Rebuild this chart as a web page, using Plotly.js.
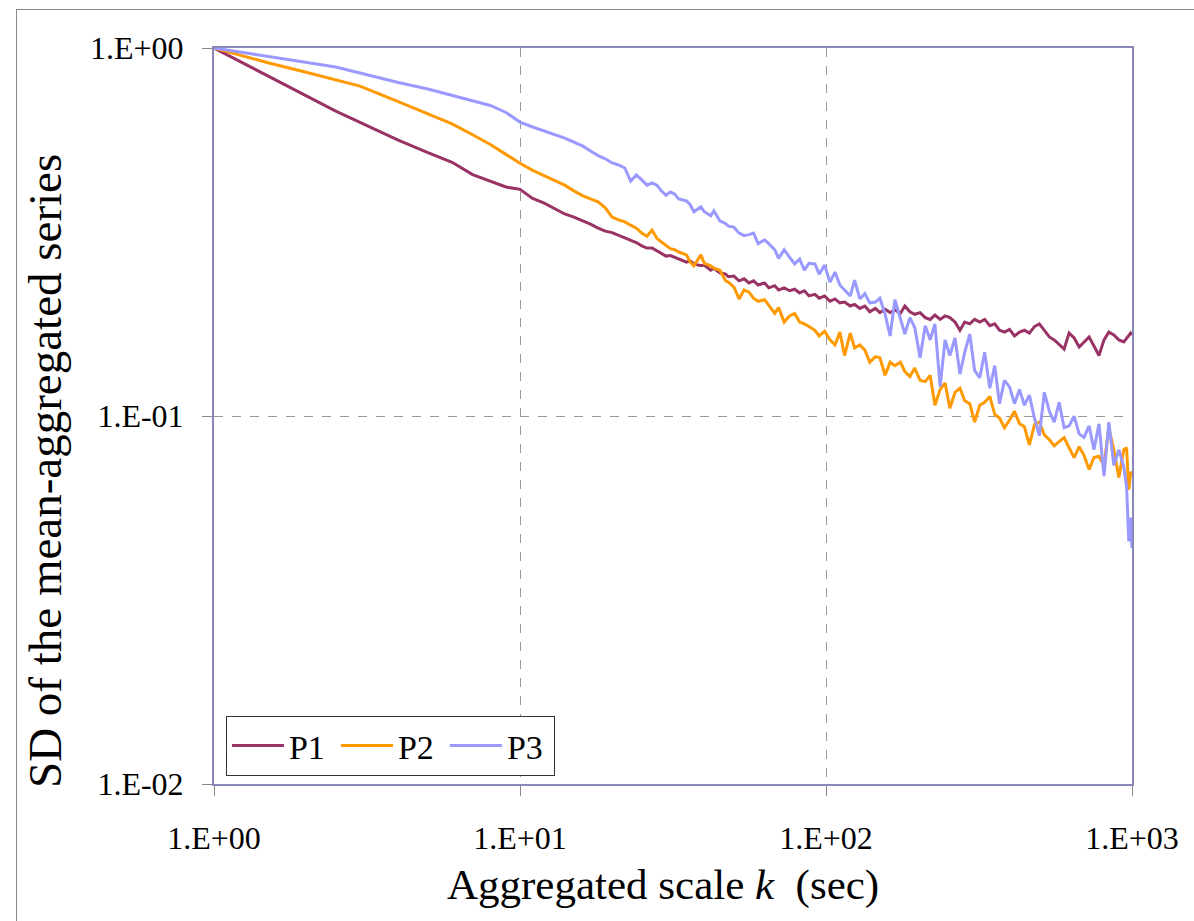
<!DOCTYPE html>
<html>
<head>
<meta charset="utf-8">
<script src="https://cdn.plot.ly/plotly-3.0.1.min.js"></script>
<style>
  html, body { margin: 0; padding: 0; background: #ffffff; }
  #wrap { position: relative; width: 1194px; height: 921px; overflow: hidden; }
  #chart { width: 1194px; height: 921px; }
  #frame { position: absolute; left: 16px; top: 9px; width: 1300px; height: 1000px;
           border: 1px solid #8a8a8a; pointer-events: none; z-index: 10; }
</style>
</head>
<body>
<div id="wrap">
  <div id="chart"></div>
  <div id="frame"></div>
</div>
<script>
// Aggregated scale k (sec)
const kScale = [1,1.5,2,2.5,3,4,5,6,7,8,9,10,11,12,13,14,15,16,17,18,19,20,21,22,23,24,25,26,27,28,29,30,
  31,32,33,35,36,37,39,40,42,43,45,47,48,50,52,54,56,58,60,63,65,68,70,73,76,79,82,85,88,92,95,99,103,107,
  111,115,120,124,129,134,139,145,150,156,162,168,175,181,188,195,203,211,219,227,236,245,254,264,274,284,
  295,306,318,330,343,356,369,383,398,413,429,445,462,480,498,517,537,557,578,600,623,647,672,697,724,751,
  780,810,840,872,906,940,960,976,990,1000];

// SD of the mean-aggregated series
const sdP1 = [1,0.84,0.742,0.674,0.628,0.562,0.52,0.489,0.453,0.435,0.419,0.413,0.39,0.379,0.365,0.354,0.347,0.34,0.332,0.324,0.318,0.315,0.31,0.304,0.3,0.296,0.29,0.286,0.286,0.281,0.276,0.272,
  0.273,0.270,0.268,0.262,0.264,0.259,0.256,0.257,0.249,0.252,
  0.245,0.243,0.239,0.240,0.233,0.236,0.230,0.233,0.227,0.230,
  0.223,0.226,0.220,0.223,0.219,0.221,0.216,0.219,0.212,0.214,
  0.209,0.212,0.205,0.208,0.203,0.204,0.199,0.201,0.196,0.199,
  0.192,0.196,0.191,0.195,0.191,0.194,0.190,0.199,0.192,0.189,
  0.191,0.185,0.183,0.188,0.183,0.187,0.185,0.180,0.171,0.180,
  0.178,0.183,0.180,0.183,0.176,0.178,0.171,0.169,0.172,0.165,
  0.169,0.171,0.168,0.175,0.178,0.171,0.164,0.161,0.156,0.152,
  0.168,0.163,0.154,0.159,0.164,0.155,0.146,0.161,0.169,0.166,
  0.161,0.159,0.163,0.165,0.168,0.166];

const sdP2 = [1,0.912,0.859,0.819,0.788,0.715,0.664,0.622,0.581,0.547,0.514,0.486,0.465,0.449,0.436,0.424,0.409,0.397,0.389,0.382,0.368,0.347,0.341,0.337,0.33,0.324,0.314,0.308,0.32,0.304,0.297,0.29,
  0.285,0.283,0.279,0.274,0.262,0.256,0.274,0.26,0.256,0.252,
  0.249,0.233,0.231,0.224,0.208,0.22,0.217,0.209,0.205,0.207,
  0.2,0.19,0.197,0.18,0.187,0.19,0.18,0.178,0.175,0.171,
  0.165,0.17,0.161,0.156,0.169,0.146,0.168,0.153,0.156,0.151,
  0.14,0.145,0.144,0.129,0.14,0.137,0.14,0.132,0.128,0.135,
  0.125,0.124,0.129,0.107,0.118,0.123,0.105,0.116,0.119,0.11,
  0.108,0.0963,0.107,0.109,0.113,0.101,0.0987,0.0929,0.0975,0.103,
  0.0953,0.0935,0.0835,0.0947,0.0963,0.0889,0.0862,0.083,0.0852,0.0874,
  0.082,0.0771,0.0825,0.0782,0.0715,0.0771,0.0777,0.0734,0.0929,0.081,
  0.0681,0.081,0.082,0.0631,0.0706,0.0684];

const sdP3 = [1,0.949,0.915,0.888,0.855,0.806,0.774,0.743,0.716,0.698,0.668,0.629,0.61,0.595,0.58,0.569,0.555,0.542,0.525,0.51,0.50,0.487,0.481,0.472,0.435,0.452,0.438,0.424,0.43,0.424,0.409,0.398,
  0.406,0.401,0.389,0.384,0.375,0.359,0.37,0.359,0.35,0.361,
  0.339,0.333,0.328,0.326,0.314,0.309,0.311,0.314,0.294,0.301,
  0.294,0.283,0.268,0.283,0.27,0.259,0.267,0.249,0.26,0.259,
  0.243,0.257,0.231,0.246,0.227,0.22,0.212,0.234,0.208,0.215,
  0.203,0.204,0.209,0.189,0.165,0.207,0.185,0.167,0.185,0.174,
  0.144,0.176,0.161,0.178,0.12,0.161,0.146,0.163,0.13,0.149,
  0.167,0.133,0.127,0.149,0.119,0.137,0.108,0.125,0.12,0.108,
  0.118,0.107,0.114,0.0987,0.0884,0.116,0.103,0.0963,0.109,0.0929,
  0.094,0.0999,0.0894,0.0874,0.094,0.081,0.0952,0.0687,0.0963,0.0734,
  0.081,0.0728,0.0644,0.0456,0.053,0.0438];

const seriesNames = ["P1", "P2", "P3"];
const seriesColors = ["#993366", "#FF9900", "#9999FF"];

const xTickVals = [1, 10, 100, 1000];
const xTickText = ["1.E+00", "1.E+01", "1.E+02", "1.E+03"];
const yTickVals = [0.01, 0.1, 1];
const yTickText = ["1.E-02", "1.E-01", "1.E+00"];
const xTitle = "Aggregated scale <i>k</i>&nbsp; (sec)";
const yTitle = "SD of the mean-aggregated series";

const FONT = "Liberation Serif, Times New Roman, serif";
const seriesData = [sdP1, sdP2, sdP3];

const traces = seriesData.map((ys, i) => ({
  type: "scatter",
  mode: "lines",
  x: kScale,
  y: ys,
  name: seriesNames[i],
  line: { color: seriesColors[i], width: 3 }
}));

const layout = {
  width: 1194,
  height: 921,
  margin: { l: 214, r: 62, t: 48, b: 137 },
  paper_bgcolor: "#ffffff",
  plot_bgcolor: "#ffffff",
  font: { family: FONT, color: "#000000", size: 32 },
  showlegend: true,
  legend: {
    orientation: "h",
    x: 0.013, y: 0.0924, xanchor: "left", yanchor: "top",
    bgcolor: "#ffffff", bordercolor: "#333333", borderwidth: 1,
    font: { family: FONT, size: 34, color: "#000000" },
    itemwidth: 52,
    entrywidth: 42, entrywidthmode: "pixels",
    traceorder: "normal"
  },
  xaxis: {
    type: "log",
    range: [0, 3],
    tickvals: xTickVals,
    ticktext: xTickText,
    tickfont: { family: FONT, size: 32 },
    ticks: "outside", ticklen: 10, tickcolor: "#888888", tickwidth: 1,
    ticklabelstandoff: 15,
    showgrid: true, gridcolor: "#999999", gridwidth: 1, griddash: "dash",
    showline: true, linecolor: "#8888bb", linewidth: 2, mirror: true,
    zeroline: false,
    automargin: false
  },
  yaxis: {
    type: "log",
    range: [-2, 0],
    tickvals: yTickVals,
    ticktext: yTickText,
    tickfont: { family: FONT, size: 32 },
    ticks: "outside", ticklen: 10, tickcolor: "#888888", tickwidth: 1,
    ticklabelstandoff: 12,
    showgrid: true, gridcolor: "#999999", gridwidth: 1, griddash: "dash",
    showline: true, linecolor: "#8888bb", linewidth: 2, mirror: true,
    zeroline: false,
    automargin: false
  },
  annotations: [{
    text: yTitle,
    xref: "paper", yref: "paper",
    x: -0.184, y: -0.008,
    xanchor: "center", yanchor: "bottom",
    textangle: -90,
    showarrow: false,
    font: { family: FONT, size: 47, color: "#000000" }
  }, {
    text: xTitle,
    xref: "paper", yref: "paper",
    x: 0.489, y: -0.137,
    xanchor: "center", yanchor: "middle",
    showarrow: false,
    font: { family: FONT, size: 43, color: "#000000" }
  }]
};

Plotly.newPlot("chart", traces, layout, { staticPlot: true, displayModeBar: false });
</script>
</body>
</html>
